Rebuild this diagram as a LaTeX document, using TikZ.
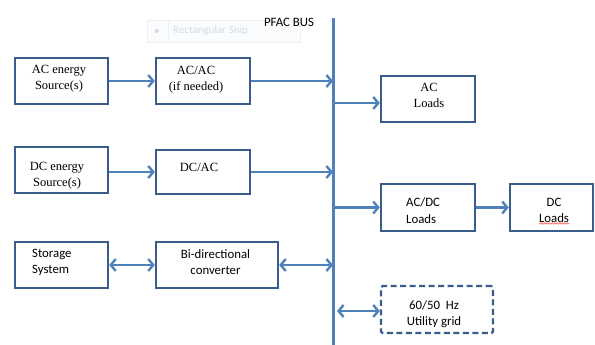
\documentclass[tikz,border=0pt]{standalone}
\usepackage{fontspec}
\setmainfont{Liberation Serif}
\newfontfamily\calib{Carlito}
\usetikzlibrary{arrows.meta,calc,decorations.pathmorphing}
\definecolor{busblue}{RGB}{79,129,189}
\definecolor{boxblue}{RGB}{56,93,138}
\definecolor{snipline}{RGB}{236,241,247}
\definecolor{snipfill}{RGB}{250,252,254}
\definecolor{snipgray}{RGB}{214,218,223}
\begin{document}
\begin{tikzpicture}[x=1pt,y=-1pt,
  box/.style={draw=boxblue, line width=2.4pt, fill=white, inner sep=0pt},
  dbox/.style={box, dash pattern=on 6pt off 3.5pt, rounded corners=1.5pt},
  serif/.style={font=\fontsize{12.5}{16}\selectfont, align=center, inner sep=0pt},
  sans/.style={font=\calib\fontsize{12.8}{16.5}\selectfont, align=center, inner sep=0pt},
  link/.style={draw=busblue, line width=2.4pt},
  arr/.style={link, -{Straight Barb[length=5pt,width=12pt]}},
  darr/.style={link, {Straight Barb[length=5pt,width=12pt]}-{Straight Barb[length=5pt,width=12pt]}}]

\useasboundingbox (0,0) rectangle (595,345);

% faint snipping-tool tooltip
\node[draw=snipline, fill=snipfill, line width=0.5pt, minimum width=153pt,
      minimum height=22pt, inner sep=0pt] (snip) at (223.5,31) {};
\draw[snipline, line width=0.5pt] ($(snip.north west)+(21,0)$) -- ($(snip.south west)+(21,0)$);
\fill[snipgray] ($(snip.west)+(10,0)$) circle (2pt);
\node[inner sep=0pt, font=\calib\fontsize{11}{13}\selectfont, text=snipgray, anchor=west]
      (sniptext) at (173,31) {Rectangular Snip};

% PFAC bus
\node[sans] (buslabel) at (289,22) {PFAC BUS};
\coordinate (bustop) at (333,18);
\coordinate (busbot) at (333,345);
\draw[link, line width=3pt] (bustop) -- (busbot);

% blocks
\node[box, minimum width=93pt, minimum height=46pt] (acsrc) at (61.5,81) {};
\node[box, minimum width=94pt, minimum height=46pt] (acac) at (203,81) {};
\node[box, minimum width=93pt, minimum height=46pt] (dcsrc) at (61.5,170) {};
\node[box, minimum width=94pt, minimum height=44pt] (dcac) at (203,172) {};
\node[box, minimum width=93pt, minimum height=46pt] (storage) at (61.5,265) {};
\node[box, minimum width=122pt, minimum height=46pt] (bidir) at (217,265) {};
\node[box, minimum width=94pt, minimum height=46pt] (acload) at (428,99) {};
\node[box, minimum width=94pt, minimum height=47pt] (acdc) at (428,207.5) {};
\node[box, minimum width=83pt, minimum height=47pt] (dcload) at (551.5,207.5) {};
\node[dbox, minimum width=112pt, minimum height=47pt] (grid) at (437,309.5) {};

% block texts
\node[serif] (acsrcT) at (59,79) {AC energy\\Source(s)};
\node[serif] (acacT) at (196,79.5) {AC/AC\\(if needed)};
\node[serif] (dcsrcT) at (57,175.5) {DC energy\\Source(s)};
\node[serif] (dcacT) at (199,167.5) {DC/AC};
\node[serif] (acloadT) at (429,95.5) {AC\\Loads};
\node[sans, align=left, anchor=west] (storageT) at (32,262.5) {Storage\\System};
\node[sans] (bidirT) at (215.5,262) {Bi-directional\\converter};
\node[sans, align=left, anchor=west] (acdcT) at (406,210.5) {AC/DC\\Loads};
\node[sans] (dcloadT) at (554,210.5) {DC\\Loads};
\node[sans] (gridT) at (434,314) {60/50\ \ Hz\\Utility grid};

% spell-check underline
\draw[red!75, line width=0.5pt, decorate,
      decoration={snake, segment length=2.5pt, amplitude=0.7pt}]
      ($(dcloadT)+(-15,13)$) -- ($(dcloadT)+(15,13)$);

% connectors
\draw[arr] (acsrc.east) -- (acac.west);
\draw[arr] (acac.east) -- (acac.east -| bustop);
\coordinate (tapac) at (333,103);
\draw[arr] (tapac) -- (tapac -| acload.west);
\draw[arr] (dcsrc.east |- dcac.west) -- (dcac.west);
\draw[arr] (dcac.east) -- (dcac.east -| bustop);
\draw[arr] (acdc.west -| bustop) -- (acdc.west);
\draw[arr] (acdc.east) -- (dcload.west);
\draw[darr] (storage.east) -- (bidir.west);
\draw[darr] (bidir.east) -- (bidir.east -| bustop);
\coordinate (tapgrid) at (337,311);
\draw[darr] (tapgrid) -- (tapgrid -| grid.west);
\end{tikzpicture}
\end{document}
